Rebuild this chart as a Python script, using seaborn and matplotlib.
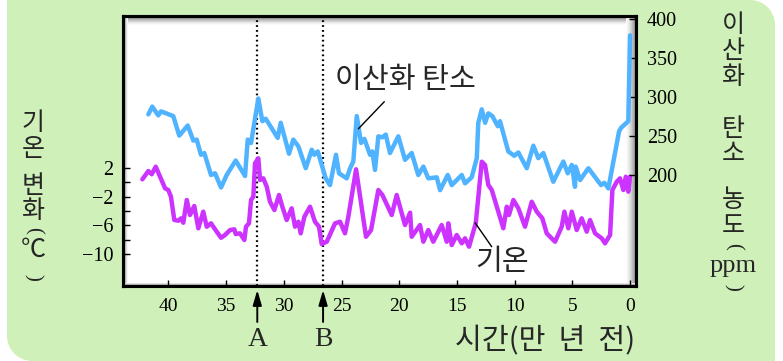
import matplotlib
matplotlib.use("Agg")
import matplotlib.pyplot as plt
import seaborn as sns
import pandas as pd
from matplotlib.path import Path
from matplotlib.patches import PathPatch, Rectangle

# ---------------- data ----------------
co2_age = [41.74, 41.40, 40.88, 40.64, 39.58, 39.06, 38.33, 37.84, 37.55, 37.18,
           36.89, 36.31, 35.96, 35.44, 34.95, 34.17, 33.36, 33.13, 32.84, 32.21,
           31.86, 31.57, 30.53, 30.27, 29.55, 29.18, 28.74, 28.10, 27.58, 27.36,
           27.06, 26.37, 26.00, 25.48, 25.22, 24.55, 24.26, 23.98, 23.68, 23.31,
           23.02, 22.53, 22.33, 22.10, 21.81, 21.46, 21.17, 20.80, 20.08, 19.50,
           18.92, 18.35, 17.91, 17.48, 16.75, 16.46, 15.80, 15.45, 14.58, 14.30,
           13.72, 13.28, 13.15, 12.85, 12.56, 12.28, 11.93, 11.46, 11.27, 10.55,
           10.03, 9.68, 8.95, 8.38, 7.95, 7.51, 6.65, 5.78, 5.40, 5.05,
           4.77, 4.71, 4.33, 3.61, 2.51, 2.23, 1.88, 0.95, 0.78, 0.15, 0.0]
co2_ppm = [277.9, 287.9, 276.6, 281.8, 275.7, 250.6, 263.6, 244.2, 245.5, 226.0,
           228.2, 200.0, 202.2, 184.0, 200.0, 218.6, 198.7, 245.5, 241.2, 298.3,
           269.2, 272.3, 247.7, 267.1, 227.3, 245.5, 236.8, 208.7, 232.5, 226.0,
           230.3, 195.7, 187.0, 226.0, 202.2, 195.7, 208.7, 217.3, 275.7, 241.2,
           246.4, 226.0, 230.3, 206.5, 249.7, 248.4, 251.9, 228.2, 249.7, 219.5,
           228.2, 200.0, 210.8, 195.7, 197.0, 180.5, 200.0, 187.0, 200.0, 189.2,
           197.0, 221.7, 267.1, 284.4, 267.1, 279.2, 275.7, 262.7, 269.2, 230.3,
           224.7, 229.0, 208.7, 237.7, 221.7, 228.2, 191.3, 217.3, 202.2, 213.0,
           184.8, 210.8, 193.5, 208.7, 187.0, 190.0, 182.7, 256.2, 260.6, 269.2, 379.6]

temp_age = [42.26, 41.74, 41.45, 41.10, 40.29, 40.01, 39.78, 39.49, 39.14, 38.91,
            38.71, 38.41, 38.13, 37.76, 37.41, 36.98, 36.68, 36.31, 35.96, 35.44,
            35.10, 34.66, 34.29, 34.17, 33.80, 33.42, 33.28, 33.02, 32.84, 32.64,
            32.50, 32.21, 32.06, 31.78, 31.48, 31.20, 30.82, 30.42, 30.13, 29.75,
            29.32, 29.03, 28.74, 28.54, 28.22, 27.73, 27.30, 26.95, 26.72, 26.28,
            25.56, 25.13, 24.70, 24.41, 23.74, 22.88, 22.44, 21.81, 21.46, 20.65,
            20.22, 19.50, 19.06, 18.92, 18.20, 17.91, 17.48, 17.05, 16.32, 15.88,
            15.75, 15.45, 15.02, 14.58, 14.30, 13.95, 13.58, 13.37, 12.85, 12.56,
            12.28, 11.98, 10.98, 10.68, 10.49, 10.11, 9.68, 9.10, 8.52, 8.08,
            7.60, 7.22, 6.50, 5.92, 5.69, 5.35, 5.05, 4.62, 4.19, 3.75,
            3.47, 3.03, 2.45, 2.17, 1.73, 1.53, 1.15, 0.87, 0.58, 0.37,
            0.15, 0.0]
temp_change = [0.39, 1.54, 1.09, 2.14, -0.85, -1.09, -2.02, -5.24, -5.34, -5.01,
               -5.62, -2.47, -4.55, -3.30, -6.39, -4.09, -6.17, -5.70, -6.53, -7.70,
               -7.32, -6.63, -6.53, -7.18, -7.09, -8.01, -6.17, -5.70, -2.47, -2.02,
               2.61, 3.30, 0.30, 0.53, -0.63, -2.71, -3.86, -1.78, -3.40, -5.24,
               -3.62, -6.17, -5.48, -7.09, -4.79, -3.40, -5.48, -6.17, -8.57, -8.25,
               -5.70, -5.48, -7.09, -4.79, 1.78, -7.56, -6.63, -1.09, -1.78, -4.55,
               -1.78, -5.94, -4.23, -7.56, -5.94, -8.25, -6.63, -8.25, -5.94, -8.25,
               -5.70, -8.71, -7.32, -8.47, -7.78, -8.94, -6.86, -5.70, 2.83, 2.37,
               -0.40, -1.09, -6.39, -3.40, -4.55, -2.47, -3.62, -6.17, -2.71, -4.09,
               -5.01, -7.09, -8.25, -6.17, -4.09, -6.39, -4.09, -6.63, -5.01, -6.86,
               -5.24, -7.09, -7.78, -8.47, -7.32, -1.09, 0.06, 0.53, -1.09, 0.75,
               -1.32, 0.75]

x_ticks = [40, 35, 30, 25, 20, 15, 10, 5, 0]
x_tick_labels = ["40", "35", "30", "25", "20", "15", "10", "5", "0"]
temp_ticks = [2, 0, -2, -4, -6, -8, -10]
temp_tick_labels = ["2", "", "\u22122", "", "\u22126", "", "\u221210"]
co2_ticks = [200, 250, 300, 350, 400]
co2_tick_labels = ["200", "250", "300", "350", "400"]
event_ages = [32.3, 26.6]
event_labels = ["A", "B"]

# ---------------- style ----------------
sns.set_theme(style="white")
plt.rcParams["font.family"] = ["Liberation Serif", "Noto Sans CJK KR", "DejaVu Sans"]
KR = ["Noto Sans CJK KR", "DejaVu Sans"]
SERIF = ["Liberation Serif", "DejaVu Serif"]
BLUE = "#4FB3FF"
PURPLE = "#CC33FF"
GREEN = "#CFF1B9"
KSIZE = 21
VSIZE = 18

W, H = 783, 361
fig = plt.figure(figsize=(W / 100, H / 100), dpi=100)
fig.patch.set_facecolor("white")


def fx(x):
    return x / W


def fy(y):
    return 1 - y / H


# green background: square top-left / bottom-right, rounded top-right / bottom-left
r = 25
x0, x1, y0, y1 = 7, 775, 0, 361
k = 0.5523 * r
verts = [
    (x0, y0),
    (x1 - r, y0),
    (x1 - r + k, y0), (x1, y0 + r - k), (x1, y0 + r),
    (x1, y1),
    (x0 + r, y1),
    (x0 + r - k, y1), (x0, y1 - r + k), (x0, y1 - r),
    (x0, y0),
]
codes = [Path.MOVETO, Path.LINETO, Path.CURVE4, Path.CURVE4, Path.CURVE4,
         Path.LINETO, Path.LINETO, Path.CURVE4, Path.CURVE4, Path.CURVE4, Path.CLOSEPOLY]
verts = [(fx(a), fy(b)) for a, b in verts]
fig.patches.append(PathPatch(Path(verts, codes), facecolor=GREEN, edgecolor="none",
                             transform=fig.transFigure, zorder=-10))

# axes
L, R, T, B = 123.3, 635.7, 16.3, 285.7
ax = fig.add_axes([fx(L), fy(B), fx(R) - fx(L), fy(T) - fy(B)])
ax.set_zorder(1)
ax.set_facecolor("white")
ax2 = ax.twinx()
ax2.set_zorder(2)
ax2.patch.set_visible(False)

sns.lineplot(x=temp_age, y=temp_change, ax=ax, color=PURPLE, lw=3.2,
             sort=False, estimator=None, zorder=3)
sns.lineplot(x=co2_age, y=co2_ppm, ax=ax2, color=BLUE, lw=3.2,
             sort=False, estimator=None, zorder=3)

ax.set_xlim(43.91, -0.49)
ax.set_ylim(-14.34, 22.97)
ax2.set_ylim(57.7, 404.0)

for a in (ax, ax2):
    a.set_xlabel("")
    a.set_ylabel("")
    for s in a.spines.values():
        s.set_color("black")
        s.set_linewidth(2.2)

ax.set_xticks(x_ticks)
ax.set_xticklabels(x_tick_labels, fontsize=14, family=SERIF)
ax.set_yticks(temp_ticks)
ax.set_yticklabels(temp_tick_labels, fontsize=14.5, family=SERIF)
ax2.set_yticks(co2_ticks)
ax2.set_yticklabels(co2_tick_labels, fontsize=14.5, family=SERIF)

ax.tick_params(axis="x", bottom=True, top=False, direction="in", length=4, width=1,
               color="black", pad=9, labelcolor="black")
ax.tick_params(axis="y", left=True, right=False, direction="in", length=5, width=1,
               color="black", pad=7, labelcolor="black")
ax2.tick_params(axis="y", right=True, left=False, direction="in", length=5, width=1,
                color="black", pad=8, labelcolor="black")
for lab in ax.get_xticklabels() + ax.get_yticklabels() + ax2.get_yticklabels():
    lab.set_fontfamily(SERIF)

# bevel (inner gradient of the frame)
def strip(xa, ya, xb, yb, g):
    ax.add_patch(Rectangle((fx(xa), fy(yb)), fx(xb) - fx(xa), fy(ya) - fy(yb),
                           transform=fig.transFigure, facecolor=(g, g, g),
                           edgecolor="none", zorder=0.5))

top_g = [0.55, 0.62, 0.70, 0.77, 0.84, 0.90, 0.95, 0.98]
for i, g in enumerate(top_g):
    strip(L, T + 1 + i, R, T + 2 + i, g)
left_g = [0.6, 0.75, 0.88, 0.96]
for i, g in enumerate(left_g):
    strip(L + 1 + i, T, L + 2 + i, B, g)
right_g = [0.62, 0.68, 0.74, 0.80, 0.85, 0.89, 0.93, 0.96, 0.98]
for i, g in enumerate(right_g):
    strip(R - 2 - i, T, R - 1 - i, B, g)
bot_g = [0.72, 0.88]
for i, g in enumerate(bot_g):
    strip(L, B - 2 - i, R, B - 1 - i, g)

# dotted event lines, arrows and labels
for age, lab in zip(event_ages, event_labels):
    ax.axvline(age, color="black", ls=(0, (0.8, 1.4)), lw=1.6, zorder=2)
    ax.annotate("", xy=(age, H - 290), xycoords=("data", "figure pixels"),
                xytext=(age, H - 322), textcoords=("data", "figure pixels"),
                arrowprops=dict(arrowstyle="-|>,head_length=0.75,head_width=0.22",
                                lw=1.4, color="black", shrinkA=0, shrinkB=0),
                annotation_clip=False)
    ax.annotate(lab, xy=(age, H - 340), xycoords=("data", "figure pixels"),
                ha="center", va="center", fontsize=20, family=SERIF,
                annotation_clip=False)

# series labels with pointer lines
ax2.text(fx(405), fy(80), "이산화 탄소", ha="center", va="center",
         fontsize=KSIZE, family=KR, transform=fig.transFigure)
ax2.annotate("", xy=(23.54, 259.4), xycoords="data",
             xytext=(384.3, H - 101.7), textcoords="figure pixels",
             arrowprops=dict(arrowstyle="-", lw=1.0, color="black",
                             shrinkA=0, shrinkB=0), annotation_clip=False)
ax2.text(fx(502), fy(262), "기온", ha="center", va="center", fontsize=KSIZE,
         family=KR, transform=fig.transFigure)
ax.annotate("", xy=(13.43, -5.62), xycoords="data",
            xytext=(491.7, H - 246.7), textcoords="figure pixels",
            arrowprops=dict(arrowstyle="-", lw=1.0, color="black",
                            shrinkA=0, shrinkB=0), annotation_clip=False)

# x axis title
fig.text(fx(635), fy(341), "시간(만  년  전)", ha="right", va="center",
         fontsize=KSIZE, family=KR)

# vertical axis titles (stacked characters)
left_chars = [("기", 123), ("온", 149), ("변", 186), ("화", 211), ("(", 230),
              ("℃", 250), (")", 277)]
for ch, yy in left_chars:
    rot = -90 if ch in "()" else 0
    fam = SERIF if ch in "()" else KR
    fig.text(fx(33), fy(yy), ch, ha="center", va="center",
             fontsize=(15 if ch in "()" else VSIZE), family=fam, rotation=rot)

right_chars = [("이", 25), ("산", 51), ("화", 77), ("탄", 129), ("소", 154),
               ("농", 200), ("도", 226), ("(", 246), (")", 287)]
for ch, yy in right_chars:
    rot = -90 if ch in "()" else 0
    fam = SERIF if ch in "()" else KR
    fig.text(fx(733), fy(yy), ch, ha="center", va="center",
             fontsize=(15 if ch in "()" else VSIZE), family=fam, rotation=rot)
fig.text(fx(733), fy(272), "ppm", ha="center", va="baseline", fontsize=19,
         family=SERIF)

fig.savefig("out.png", dpi=100, facecolor=fig.get_facecolor())
